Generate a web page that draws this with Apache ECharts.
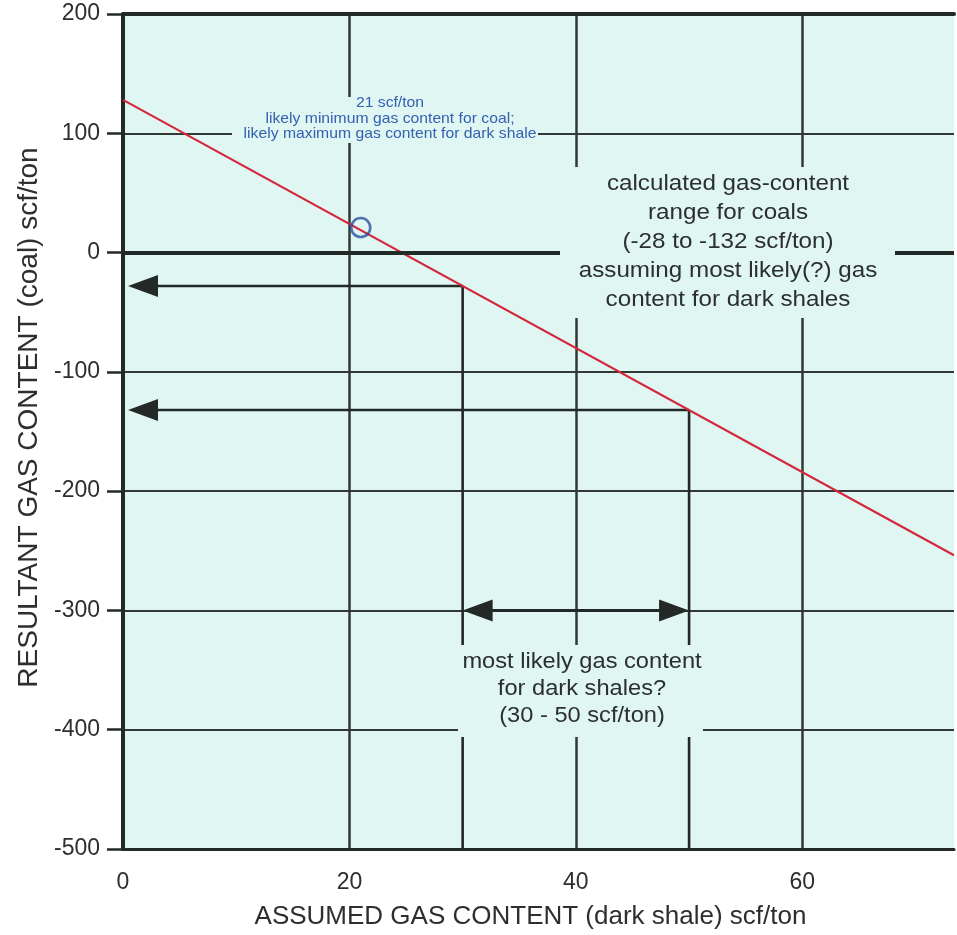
<!DOCTYPE html>
<html><head><meta charset="utf-8">
<script src="https://cdn.jsdelivr.net/npm/echarts@6/dist/echarts.min.js"></script>
<style>html,body{margin:0;padding:0;background:#fff;overflow:hidden;}#c{width:957px;height:935px;}</style>
</head><body><div id="c"></div>
<script>
// ---- data ----
const xTicks = [0, 20, 40, 60];
const yTicks = [-500, -400, -300, -200, -100, 0, 100, 200];
const xRange = [0, 73.4];
const yRange = [-500, 200];
// red line: resultant coal gas content vs assumed dark-shale gas content
const shaleX = [0, 73.4];
const coalY = [128, -253.7];
// highlighted point (21 scf/ton)
const pointX = [21];
const pointY = [21];
// most likely shale range and resulting coal range
const shaleRange = [30, 50];
const coalRange = [-28, -132];
const arrowY = -300;

// ---- styles ----
const FONT = 'Liberation Sans, Arial, Helvetica, sans-serif';
const INK = '#232927';
const GRIDC = '#323836';
const BG = '#e0f6f3';
const HEAD_L = 30, HEAD_W = 11;

const arrowData = [
  [shaleRange[0], coalRange[0], xRange[0], coalRange[0], 0, 1],
  [shaleRange[1], coalRange[1], xRange[0], coalRange[1], 0, 1],
  [shaleRange[0], coalRange[0], shaleRange[0], yRange[0], 0, 0],
  [shaleRange[1], coalRange[1], shaleRange[1], yRange[0], 0, 0],
  [shaleRange[0], arrowY, shaleRange[1], arrowY, 1, 1]
];

function renderArrow(params, api) {
  const a = api.coord([api.value(0), api.value(1)]);
  const b = api.coord([api.value(2), api.value(3)]);
  const hs = api.value(4), he = api.value(5);
  const dx = b[0] - a[0], dy = b[1] - a[1];
  const len = Math.hypot(dx, dy) || 1;
  const ux = dx / len, uy = dy / len;
  const axisPx = api.coord([xRange[0], 0])[0];
  if (Math.abs(b[0] - axisPx) < 1) { b[0] -= ux * 5; b[1] -= uy * 5; }
  function head(tip, vx, vy) {
    const bx = tip[0] - vx * HEAD_L, by = tip[1] - vy * HEAD_L;
    return { type: 'polygon', shape: { points: [[tip[0], tip[1]], [bx + vy * HEAD_W, by - vx * HEAD_W], [bx - vy * HEAD_W, by + vx * HEAD_W]] }, style: { fill: INK } };
  }
  let s = [a[0], a[1]], e = [b[0], b[1]];
  if (hs) s = [a[0] + ux * HEAD_L * 0.5, a[1] + uy * HEAD_L * 0.5];
  if (he) e = [b[0] - ux * HEAD_L * 0.5, b[1] - uy * HEAD_L * 0.5];
  const children = [{ type: 'line', shape: { x1: s[0], y1: s[1], x2: e[0], y2: e[1] }, style: { stroke: INK, lineWidth: (hs && he) ? 3 : 2.6 } }];
  if (he) children.push(head(b, ux, uy));
  if (hs) children.push(head(a, -ux, -uy));
  return { type: 'group', children };
}

const chart = echarts.init(document.getElementById('c'), null, { renderer: 'canvas' });
chart.setOption({
  animation: false,
  backgroundColor: '#ffffff',
  textStyle: { fontFamily: FONT },
  grid: { left: 123, right: 0, top: 14, bottom: 81, show: true, backgroundColor: BG, borderWidth: 0 },
  xAxis: [{
    type: 'value', min: xRange[0], max: xRange[1], interval: 20, position: 'bottom',
    axisLine: { onZero: false, lineStyle: { color: INK, width: 3 } },
    axisTick: { show: false },
    axisLabel: { fontSize: 23, color: '#2b2f2e', margin: 22, fontFamily: FONT,
      formatter: v => xTicks.includes(v) ? String(v) : '' },
    splitLine: { show: true, showMinLine: false, showMaxLine: false, lineStyle: { color: GRIDC, width: 2.5 } },
    name: 'ASSUMED GAS CONTENT (dark shale) scf/ton', nameLocation: 'middle', nameGap: 55,
    nameTextStyle: { fontSize: 26, color: '#2b2f2e', fontFamily: FONT, padding: [0, 16, 0, 0] }
  }, {
    type: 'value', min: xRange[0], max: xRange[1], position: 'top',
    axisLine: { onZero: false, lineStyle: { color: INK, width: 4 } },
    axisTick: { show: false }, axisLabel: { show: false }, splitLine: { show: false }
  }],
  yAxis: {
    type: 'value', min: yRange[0], max: yRange[1], interval: 100,
    axisLine: { onZero: false, lineStyle: { color: INK, width: 4 } },
    axisTick: { show: true, length: 16, lineStyle: { color: INK, width: 2.5 } },
    axisLabel: { fontSize: 23, color: '#2b2f2e', margin: 23, fontFamily: FONT,
      formatter: v => yTicks.includes(v) ? String(v) : '' },
    splitLine: { show: true, showMinLine: false, showMaxLine: false, lineStyle: { color: GRIDC, width: 2 } },
    name: 'RESULTANT GAS CONTENT (coal) scf/ton', nameLocation: 'middle', nameGap: 76,
    nameTextStyle: { fontSize: 28, color: '#2b2f2e', fontFamily: FONT, padding: [0, 0, 0, 28] }
  },
  series: [
    {
      type: 'line', silent: true, data: [], showSymbol: false,
      markLine: { silent: true, symbol: 'none', label: { show: false },
        lineStyle: { color: INK, width: 4, type: 'solid' }, data: [{ yAxis: 0 }] }
    },
    {
      type: 'custom', renderItem: renderArrow, data: arrowData, silent: true, z: 3
    },
    {
      type: 'line', data: shaleX.map((x, i) => [x, coalY[i]]), showSymbol: false, silent: true,
      lineStyle: { color: '#d3283a', width: 2.2 }, z: 4
    },
    {
      type: 'scatter', data: pointX.map((x, i) => [x, pointY[i]]), symbol: 'circle', symbolSize: 19, silent: true,
      itemStyle: { color: 'rgba(0,0,0,0)', borderColor: '#2a4fa0', borderWidth: 2.6 }, z: 5
    }
  ],
  graphic: [
    { type: 'rect', z: 100, shape: { x: 232, y: 97, width: 306, height: 46 }, style: { fill: BG } },
    { type: 'rect', z: 100, shape: { x: 560, y: 167, width: 335, height: 151 }, style: { fill: BG } },
    { type: 'rect', z: 100, shape: { x: 458, y: 645, width: 245, height: 92 }, style: { fill: BG } },
    { type: 'text', z: 101, x: 390, y: 119, scaleX: 1.1,
      style: { text: '21 scf/ton\nlikely minimum gas content for coal;\nlikely maximum gas content for dark shale',
        align: 'center', verticalAlign: 'middle', fill: '#3460b0', fontSize: 14.3, fontFamily: FONT, lineHeight: 15.5 } },
    { type: 'text', z: 101, x: 728, y: 242, scaleX: 1.1,
      style: { text: 'calculated gas-content\nrange for coals\n(-28 to -132 scf/ton)\nassuming most likely(?) gas\ncontent for dark shales',
        align: 'center', verticalAlign: 'middle', fill: '#2b2f2e', fontSize: 22, fontFamily: FONT, lineHeight: 29.2 } },
    { type: 'text', z: 101, x: 582, y: 689, scaleX: 1.1,
      style: { text: 'most likely gas content\nfor dark shales?\n(30 - 50 scf/ton)',
        align: 'center', verticalAlign: 'middle', fill: '#2b2f2e', fontSize: 21.5, fontFamily: FONT, lineHeight: 27 } }
  ]
});
</script>
</body></html>
